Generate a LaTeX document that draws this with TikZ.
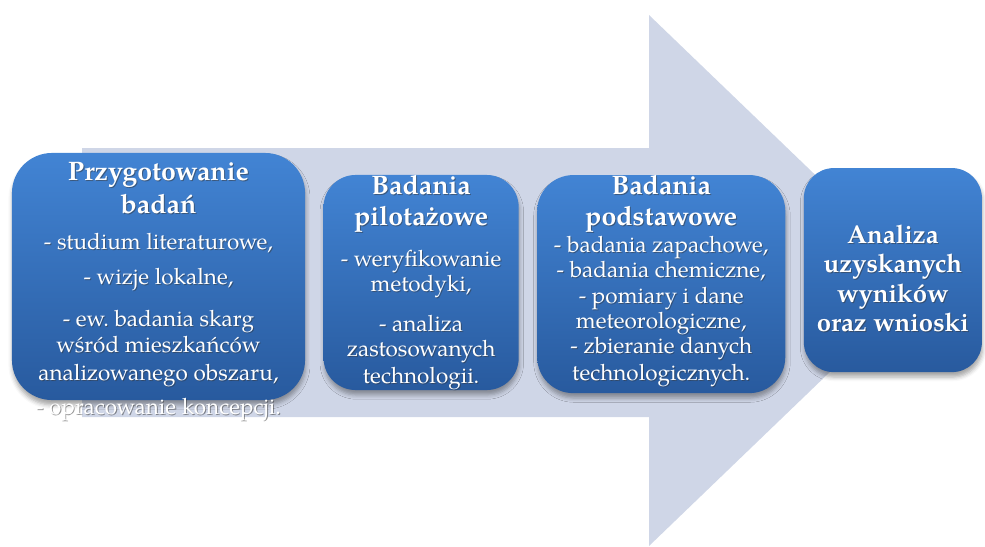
\documentclass[tikz,border=0pt]{standalone}
\usepackage{fontspec}
\setmainfont{TeX Gyre Pagella}
\usepackage{tikz}
\usetikzlibrary{positioning, shadows.blur}

\definecolor{arrowgray}{RGB}{207,214,231}
\definecolor{boxtop}{RGB}{66,132,212}
\definecolor{boxbottom}{RGB}{40,90,158}

\newcommand{\boxhead}{\fontsize{19}{22}\selectfont\bfseries}
\newcommand{\boxbody}{\fontsize{16}{18}\selectfont\mdseries}
\frenchspacing

% texts of the stages
\newcommand{\preplines}{\boxhead Przygotowanie\\[4pt] \boxhead badań\\[7.5pt]
   - studium literaturowe,\\[7pt]
   - wizje lokalne,\\[12pt]
   - ew. badania skarg\\[0.5pt] wśród mieszkańców\\[1.5pt] analizowanego obszaru,\\[6pt]
   - opracowanie koncepcji.}
\newcommand{\pilotlines}{\boxhead Badania\\[4pt] \boxhead pilotażowe\\[11.5pt]
   - weryfikowanie\\ metodyki,\\[10pt]
   - analiza\\ zastosowanych\\[1pt] technologii.}
\newcommand{\mainlines}{\boxhead Badania\\[4pt] \boxhead podstawowe\\[1.5pt]
   - badania zapachowe,\\ - badania chemiczne,\\ - pomiary i dane\\
   meteorologiczne,\\ - zbieranie danych\\[1pt] technologicznych.}
\newcommand{\resultlines}{Analiza\\ uzyskanych\\ wyników\\ oraz wnioski}

\begin{document}
\begin{tikzpicture}[
  x=0.025cm, y=-0.025cm,
  node distance=0.45cm,
  stage/.style={rectangle, draw=none, top color=boxtop, bottom color=boxbottom,
    blur shadow={shadow xshift=0.5pt, shadow yshift=-3.5pt, shadow blur radius=3pt, shadow opacity=35}},
  stagetext/.style={text=white, align=center, inner sep=0pt, font=\boxbody},
  textshadow/.style={stagetext, text=black!80, text opacity=0.5, xshift=0.7pt, yshift=-0.7pt},
  resultfont/.style={font=\fontsize{18.3}{21}\selectfont\bfseries}
]
\useasboundingbox (0,0) rectangle (985,546);

% big arrow behind the stages
\fill[arrowgray] (82,148) -- (649,148) -- (649,15) -- (925,280.5)
  -- (649,546) -- (649,417) -- (82,417) -- cycle;

% stages
\node[stage, minimum width=7.325cm, minimum height=6.175cm, rounded corners=1cm] (prep) at (158.5,276.5) {};
\node[stage, minimum width=4.875cm, minimum height=5.375cm, rounded corners=0.8cm, right=of prep, yshift=-0.15cm] (pilot) {};
\node[stage, minimum width=6.2cm, minimum height=5.45cm, rounded corners=0.9cm, right=of pilot, yshift=-0.04cm] (main) {};
\node[stage, minimum width=4.45cm, minimum height=5.1cm, rounded corners=0.75cm, right=of main, yshift=0.35cm] (result) {};

% texts, each with a soft shadow below it
\node[textshadow, anchor=north, yshift=-6.5pt] (prepshadow) at (prep.north) {\preplines};
\node[stagetext, anchor=north, yshift=-6.5pt] (preptext) at (prep.north) {\preplines};
\node[textshadow, anchor=north, yshift=0pt] (pilotshadow) at (pilot.north) {\pilotlines};
\node[stagetext, anchor=north, yshift=0pt] (pilottext) at (pilot.north) {\pilotlines};
\node[textshadow, anchor=north, yshift=0pt] (mainshadow) at (main.north) {\mainlines};
\node[stagetext, anchor=north, yshift=0pt] (maintext) at (main.north) {\mainlines};
\node[textshadow, resultfont, yshift=-6pt] (resultshadow) at (result) {\resultlines};
\node[stagetext, resultfont, yshift=-6pt] (resulttext) at (result) {\resultlines};
\end{tikzpicture}
\end{document}
